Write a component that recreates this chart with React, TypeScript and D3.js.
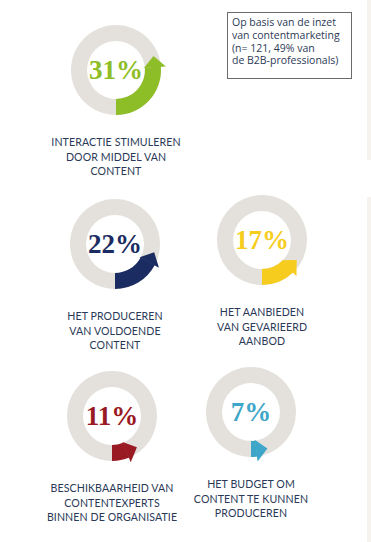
import React from "react";
import * as d3 from "d3";

const values = [31, 22, 17, 11, 7];
const labels = [
  ["INTERACTIE STIMULEREN", "DOOR MIDDEL VAN", "CONTENT"],
  ["HET PRODUCEREN", "VAN VOLDOENDE", "CONTENT"],
  ["HET AANBIEDEN", "VAN GEVARIEERD", "AANBOD"],
  ["BESCHIKBAARHEID VAN", "CONTENTEXPERTS", "BINNEN DE ORGANISATIE"],
  ["HET BUDGET OM", "CONTENT TE KUNNEN", "PRODUCEREN"],
];
const colors = ["#8dbd27", "#1b2c62", "#f6cd1e", "#9a1a24", "#3ea6c8"];
const centers = [
  [116, 70],
  [115, 244],
  [262, 240],
  [112, 416],
  [251, 412],
];
const noteLines = [
  "Op basis van de inzet",
  "van contentmarketing",
  "(n= 121, 49% van",
  "de B2B-professionals)",
];

const W = 371;
const H = 542;
const R = 45;
const r = 29;

const angle = d3.scaleLinear().domain([0, 100]).range([Math.PI, -Math.PI]);

const Donut = ({ value, color, cx, cy, lines }) => {
  const ring = d3.arc()({ innerRadius: r, outerRadius: R, startAngle: 0, endAngle: 2 * Math.PI });
  const tipA = angle(value);
  const rm = (R + r) / 2;
  const headLen = 11;
  const baseA = tipA + headLen / rm;
  const body = d3.arc()({ innerRadius: r, outerRadius: R, startAngle: baseA, endAngle: Math.PI });
  const pt = (rad, a) => [rad * Math.sin(a), -rad * Math.cos(a)];
  const b1 = pt(r - 1, baseA + 0.01);
  const b2 = pt(R + 5, baseA + 0.01);
  const m = pt(rm + 1.5, baseA);
  const tip = [m[0] - Math.cos(baseA) * headLen, m[1] - Math.sin(baseA) * headLen];
  return (
    <g transform={`translate(${cx},${cy})`}>
      <path d={ring} fill="#e4e1dc" />
      <path d={body} fill={color} />
      <path d={`M${b1}L${b2}L${tip}Z`} fill={color} />
      <text
        y={9}
        textAnchor="middle"
        fontFamily="'Liberation Serif', serif"
        fontWeight="bold"
        fontSize={27}
        fill={color}
      >
        {value}%
      </text>
      {lines.map((l, i) => (
        <text
          key={i}
          y={R + 31 + i * 14.5}
          textAnchor="middle"
          fontFamily="Lato, sans-serif"
          fontSize={10.6}
          letterSpacing={0.1}
          fill="#2a3958"
        >
          {l}
        </text>
      ))}
    </g>
  );
};

export default function App() {
  return (
    <svg width={W} height={H} style={{ position: "absolute", left: 0, top: 0, background: "#fff" }}>
      <rect x={367} y={0} width={4} height={160} fill="#f6f2ee" />
      <rect x={367} y={197} width={4} height={H - 197} fill="#f6f2ee" />
      <rect x={227.5} y={12.5} width={124} height={66} fill="#fff" stroke="#6b6b6b" strokeWidth={1} />
      {noteLines.map((l, i) => (
        <text
          key={i}
          x={232}
          y={26 + i * 12.8}
          fontFamily="'Open Sans', sans-serif"
          fontSize={10.5}
          fill="#2c3a56"
        >
          {l}
        </text>
      ))}
      {values.map((v, i) => (
        <Donut
          key={i}
          value={v}
          color={colors[i]}
          cx={centers[i][0]}
          cy={centers[i][1]}
          lines={labels[i]}
        />
      ))}
    </svg>
  );
}
